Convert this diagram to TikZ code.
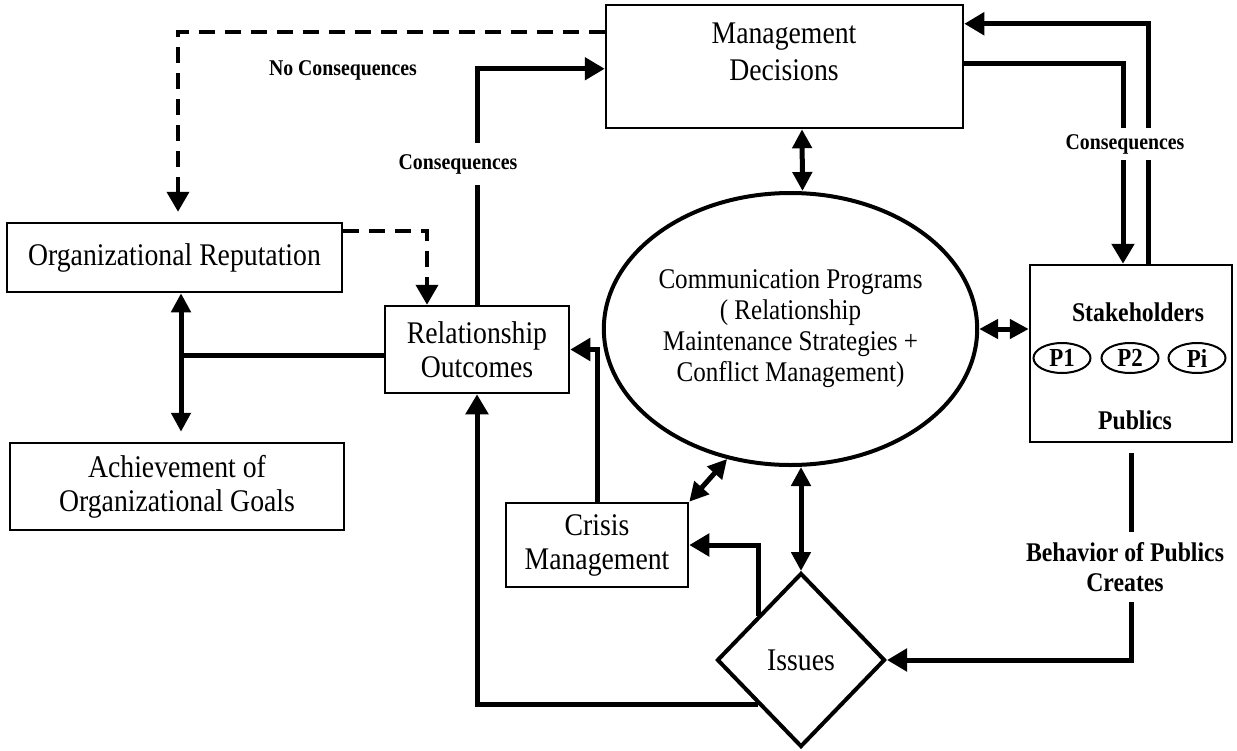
\documentclass[tikz,border=0pt]{standalone}
\usepackage{fontspec}
\setmainfont{Liberation Serif}[FakeStretch=0.88]
\usetikzlibrary{arrows.meta,shapes.geometric}
\begin{document}
\begin{tikzpicture}[x=1pt,y=-1pt,
  box/.style={draw, line width=2.5pt, rectangle, inner sep=0pt, align=center,
    font=\fontsize{31.5pt}{34pt}\selectfont},
  word/.style={inner sep=0pt, align=center, font=\fontsize{31.5pt}{37pt}\selectfont},
  tag/.style={inner sep=2pt, align=center, font=\bfseries\fontsize{22.5pt}{24pt}\selectfont},
  midtag/.style={inner sep=2pt, align=center, font=\bfseries\fontsize{27pt}{30pt}\selectfont},
  pub/.style={draw, ellipse, line width=2pt, minimum width=57pt, minimum height=30pt,
    inner sep=0pt, font=\bfseries\fontsize{26pt}{28pt}\selectfont},
  gapfill/.style={fill=white},
  flow/.style={line width=5pt},
  dashline/.style={line width=4pt, dash pattern=on 16pt off 10pt},
  onearrow/.style={-{Triangle[length=20pt,width=22pt]}},
  twoarrow/.style={{Triangle[length=19pt,width=19pt]}-{Triangle[length=19pt,width=19pt]}},
]
\fill[white] (0,0) rectangle (1237,750);
\useasboundingbox (0,0) rectangle (1237,750);

% boxes
\node[box, minimum width=357pt, minimum height=123pt] (md) at (784.5,66.5) {};
\node[word] (mdtext) at (784,52) {Management\\Decisions};
\node[box, minimum width=335pt, minimum height=69pt] (orgrep) at (174.5,257.5) {Organizational Reputation};
\node[box, minimum width=184pt, minimum height=87pt] (relout) at (477,349.5) {Relationship\\Outcomes};
\node[box, minimum width=182pt, minimum height=84pt] (crisis) at (597,545) {Crisis\\Management};
\node[box, minimum width=334pt, minimum height=87pt] (goals) at (177,486.5) {Achievement of\\Organizational Goals};

% central programme ellipse
\node[draw, ellipse, line width=4pt, minimum width=365pt, minimum height=272pt, inner sep=0pt,
  align=center, font=\fontsize{28.5pt}{31pt}\selectfont] (comm) at (790.5,329)
  {Communication Programs\\( Relationship\\Maintenance Strategies +\\Conflict Management)};

% stakeholders and publics
\node[box, minimum width=202pt, minimum height=177pt] (stake) at (1131,353.5) {};
\node[midtag] (stktext) at (1138,312) {Stakeholders};
\node[pub] (p1) at (1062,358) {P1};
\node[pub] (p2) at (1130,358) {P2};
\node[pub] (pi) at (1197,358) {Pi};
\node[midtag] (pubtext) at (1135,420) {Publics};

% issues
\node[draw, diamond, line width=4pt, minimum width=168pt, minimum height=174pt, inner sep=0pt,
  font=\fontsize{31.5pt}{34pt}\selectfont] (issues) at (801,660) {Issues};

% dashed links
\draw[dashline, onearrow, shorten >=10pt] ([yshift=-28pt]md.north west) -| ([xshift=3.5pt]orgrep.north);
\draw[dashline, onearrow] ([yshift=-9pt]orgrep.north east) -| ([xshift=-50pt]relout.north);

% solid links
\draw[flow, onearrow] (relout.north) |- ([yshift=-65pt]md.north west);
\draw[flow, onearrow] ([xshift=17pt]stake.north) |- ([yshift=-20pt]md.north east);
\draw[flow, onearrow] ([yshift=-60pt]md.north east) -| ([xshift=-8pt]stake.north);
\draw[flow, twoarrow] ([xshift=17.5pt]md.south) -- ([xshift=12pt]comm.north);
\draw[flow, twoarrow] (comm.east) -- (comm.east -| stake.west);
\draw[flow, twoarrow] (comm.244) -- (crisis.north east);
\draw[flow, twoarrow] (issues.north |- comm.south) -- (issues.north);
\draw[flow, onearrow] (issues.north west) |- (crisis.east);
\draw[flow, onearrow] (issues.south west) -| (relout.south);
\draw[flow, onearrow] (crisis.north) |- (relout.east);
\draw[flow, onearrow, shorten <=10pt] (stake.south) |- (issues.east);
\draw[flow, twoarrow, shorten >=10pt] ([xshift=6.5pt]orgrep.south) -- ([xshift=4pt]goals.north);
\coordinate (jn) at (181,355);
\draw[flow] ([yshift=-5.5pt]relout.west) -- (jn);

% labels on the links
\node[tag] (nocons) at (343,70) {No Consequences};
\node[tag, gapfill, inner ysep=11pt] (consleft) at (458,164) {Consequences};
\node[tag, gapfill, inner ysep=6.5pt] (consright) at (1125,144) {Consequences};
\node[midtag, gapfill, inner ysep=10pt] (behav) at (1125,567) {Behavior of Publics\\Creates};
\end{tikzpicture}
\end{document}
